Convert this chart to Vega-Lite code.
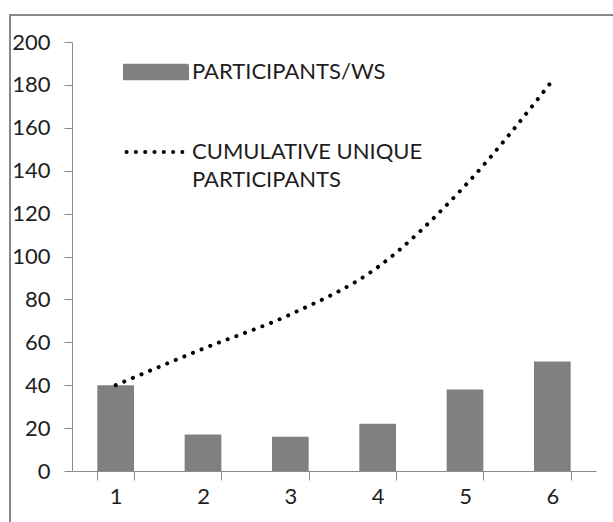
{
  "$schema": "https://vega.github.io/schema/vega-lite/v6.json",
  "autosize": "none",
  "padding": {"left": 10, "top": 15, "right": 0, "bottom": 0},
  "width": 610,
  "height": 515,
  "background": "white",
  "config": {
    "view": {"stroke": "#898989", "strokeWidth": 2},
    "font": "Lato",
    "axis": {
      "labelFont": "Lato",
      "labelFontSize": 22,
      "labelColor": "#1e1e1e",
      "domainColor": "#8c8c8c",
      "tickColor": "#8c8c8c",
      "grid": false,
      "title": null
    }
  },
  "data": {
    "values": [
      {"ws": "1", "participants": 40, "cumulative": 40},
      {"ws": "2", "participants": 17, "cumulative": 57},
      {"ws": "3", "participants": 16, "cumulative": 73},
      {"ws": "4", "participants": 22, "cumulative": 95},
      {"ws": "5", "participants": 38, "cumulative": 133},
      {"ws": "6", "participants": 51, "cumulative": 182}
    ]
  },
  "encoding": {
    "x": {
      "field": "ws",
      "type": "nominal",
      "sort": null,
      "scale": {"range": [62, 586], "paddingInner": 0.58, "paddingOuter": 0.29},
      "axis": {
        "orient": "bottom",
        "offset": -59,
        "labelAngle": 0,
        "tickBand": "extent",
        "tickSize": 9,
        "labelPadding": 6,
        "title": null
      }
    }
  },
  "layer": [
    {
      "mark": {"type": "bar", "fill": "#808080"},
      "encoding": {
        "y": {
          "field": "participants",
          "type": "quantitative",
          "scale": {"domain": [0, 200], "range": [456, 27], "nice": false, "zero": true},
          "axis": {
            "orient": "left",
            "offset": -62,
            "values": [0, 20, 40, 60, 80, 100, 120, 140, 160, 180, 200],
            "tickSize": 8,
            "labelPadding": 14,
            "title": null
          }
        },
        "color": {
          "datum": "PARTICIPANTS/WS",
          "type": "nominal",
          "scale": {
            "domain": ["PARTICIPANTS/WS", "CUMULATIVE UNIQUE PARTICIPANTS"],
            "range": ["#808080", "#000000"]
          },
          "legend": {
            "orient": "none",
            "legendX": 113,
            "legendY": 24,
            "title": null,
            "padding": 0,
            "rowPadding": 32,
            "labelOffset": 3,
            "labelFont": "Lato",
            "labelFontSize": 22,
            "labelColor": "#1e1e1e",
            "labelLimit": 400,
            "labelExpr": "datum.label == 'CUMULATIVE UNIQUE PARTICIPANTS' ? ['CUMULATIVE UNIQUE', 'PARTICIPANTS'] : datum.label",
            "symbolSize": 3844,
            "encode": {
              "labels": {
                "update": {"lineHeight": {"value": 28}}
              },
              "symbols": {
                "update": {
                  "shape": {"signal": "datum.value === 'PARTICIPANTS/WS' ? 'M-1,-0.2H1V0.2H-1Z' : 'M-0.95,0H0.85'"},
                  "fill": {"signal": "datum.value === 'PARTICIPANTS/WS' ? '#808080' : 'transparent'"},
                  "stroke": {"signal": "datum.value === 'PARTICIPANTS/WS' ? 'transparent' : '#000000'"},
                  "strokeDash": {"signal": "datum.value === 'PARTICIPANTS/WS' ? [1, 0] : [0.1, 9.2]"},
                  "strokeWidth": {"value": 4},
                  "strokeCap": {"value": "round"},
                  "size": {"value": 3844},
                  "opacity": {"value": 1}
                }
              }
            }
          }
        }
      }
    },
    {
      "mark": {
        "type": "line",
        "interpolate": "monotone",
        "strokeWidth": 4,
        "strokeCap": "round",
        "strokeDash": [0.1, 9.2]
      },
      "encoding": {
        "y": {"field": "cumulative", "type": "quantitative"},
        "color": {"datum": "CUMULATIVE UNIQUE PARTICIPANTS", "type": "nominal"}
      }
    }
  ]
}
